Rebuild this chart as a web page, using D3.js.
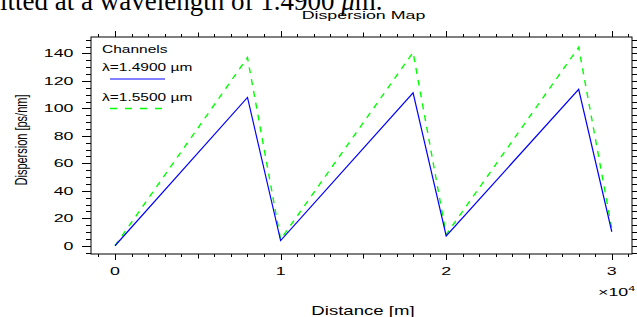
<!DOCTYPE html>
<html><head><meta charset="utf-8">
<script src="https://cdn.jsdelivr.net/npm/d3@7"></script>
<style>
html,body{margin:0;padding:0;background:#fff;}
svg{display:block;}
text{font-family:"Liberation Sans",Arial,Helvetica,sans-serif;fill:#000;}
</style></head>
<body>
<svg id="chart" width="637" height="317"></svg>
<script>
// ---- data (distance in metres) ----
const distance = [0, 8000, 10000, 18000, 20000, 28000, 30000];
const disp1490 = [0, 108, 3.8, 111.4, 7.2, 113.9, 10.2];
const disp1550 = [0, 137, 4.6, 140.8, 8.2, 144.5, 12.5];
const seriesNames = ["\u03bb=1.4900 \u00b5m", "\u03bb=1.5500 \u00b5m"];
const xTickValues = [0, 10000, 20000, 30000];
const xTickLabels = ["0", "1", "2", "3"];
const yTickValues = [0, 20, 40, 60, 80, 100, 120, 140];
const yTickLabels = ["0", "20", "40", "60", "80", "100", "120", "140"];

const SX = 1.55;
const svg = d3.select("#chart");
const L = 91, R = 632, T = 37, B = 254;
const x = d3.scaleLinear().domain([-1450, 31220]).range([L, R]);
const y = d3.scaleLinear().domain([-6, 152]).range([B, T]);

// header text fragment (document text above the figure, clipped at top)
const hdr = svg.append("text").attr("x", 0).attr("y", 10)
  .style("font-family", "'Liberation Serif','Times New Roman',serif").style("font-size", "27px");
hdr.append("tspan").text("itted at a wavelength of 1.4900 ");
hdr.append("tspan").style("font-style", "italic").text("\u03bc");
hdr.append("tspan").text("m.");

function stext(px, py, str, size, anchor, extra) {
  const t = svg.append("text")
    .attr("transform", `translate(${px},${py}) scale(${SX},1)` + (extra || ""))
    .attr("text-anchor", anchor || "start")
    .style("font-size", size + "px")
    .text(str);
  return t;
}

// frame
svg.append("rect").attr("x", L).attr("y", T).attr("width", R - L).attr("height", B - T)
  .attr("fill", "none").attr("stroke", "#000").attr("stroke-width", 1);

// x ticks (bottom + top), minor every 1000, mid every 5000, major every 10000
const xMinor = d3.range(-1000, 31001, 1000);
const tk = svg.append("g").attr("stroke", "#000").attr("stroke-width", 1);
xMinor.forEach(v => {
  const len = (v % 10000 === 0) ? 6 : (v % 5000 === 0 ? 4.5 : 3);
  const px = Math.round(x(v)) + 0.5;
  tk.append("line").attr("x1", px).attr("x2", px).attr("y1", B).attr("y2", B + len);
  tk.append("line").attr("x1", px).attr("x2", px).attr("y1", T).attr("y2", T - len);
});
// y ticks (left + right), minor every 5, major every 20
const yMinor = d3.range(-5, 151, 5);
yMinor.forEach(v => {
  const len = (v % 20 === 0) ? 9 : 5;
  const py = Math.round(y(v)) + 0.5;
  tk.append("line").attr("x1", L).attr("x2", L - len).attr("y1", py).attr("y2", py);
  tk.append("line").attr("x1", R).attr("x2", R + len).attr("y1", py).attr("y2", py);
});

// tick labels
xTickValues.forEach((v, i) => stext(x(v), 275, xTickLabels[i], 11.5, "middle"));
yTickValues.forEach((v, i) => stext(73.5, y(v) + 4, yTickLabels[i], 11.5, "end"));

// titles
stext(363.5, 19, "Dispersion Map", 11.5, "middle");
stext(363, 315, "Distance [m]", 12, "middle");
stext(26.5, 140, "Dispersion [ps/nm]", 11, "middle", " rotate(-90)");
const ex = stext(598, 296, "\u00d710", 11.5, "start");
ex.append("tspan").attr("dy", -5).style("font-size", "8px").text("4");

// lines
const pts1 = distance.map((d, i) => [d, disp1490[i]]);
const pts2 = distance.map((d, i) => [d, disp1550[i]]);
const line = d3.line().x(d => x(d[0])).y(d => y(d[1]));
svg.append("path").attr("d", line(pts2)).attr("fill", "none")
  .attr("stroke", "#00ff00").attr("stroke-width", 1.4).attr("stroke-dasharray", "6,6");
svg.append("path").attr("d", line(pts1)).attr("fill", "none")
  .attr("stroke", "#0000ff").attr("stroke-width", 1.2);

// legend
stext(102, 53, "Channels", 10, "start");
stext(102, 71, seriesNames[0], 10, "start");
svg.append("line").attr("x1", 110).attr("x2", 165).attr("y1", 79).attr("y2", 79)
  .attr("stroke", "#0000ff").attr("stroke-width", 1.2);
stext(102, 100.5, seriesNames[1], 10, "start");
svg.append("line").attr("x1", 110).attr("x2", 165).attr("y1", 108.5).attr("y2", 108.5)
  .attr("stroke", "#00ff00").attr("stroke-width", 1.4).attr("stroke-dasharray", "7,8");
</script>
</body></html>
